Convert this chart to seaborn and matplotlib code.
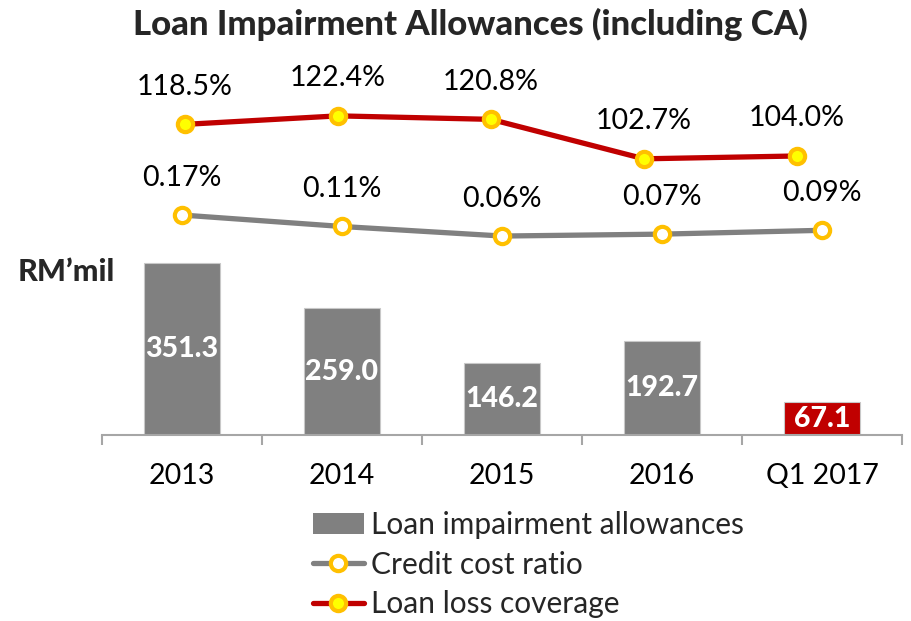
import matplotlib
matplotlib.use('Agg')
import matplotlib.pyplot as plt
import seaborn as sns
import pandas as pd
from matplotlib.patches import Patch
from matplotlib.lines import Line2D

# data
categories = ['2013', '2014', '2015', '2016', 'Q1 2017']
allowances = [351.3, 259.0, 146.2, 192.7, 67.1]
credit_cost = [0.17, 0.11, 0.06, 0.07, 0.09]
coverage = [118.5, 122.4, 120.8, 102.7, 104.0]

GREY = '#808080'
RED = '#C00000'
GOLD = '#FFC000'
bar_colors = [GREY, GREY, GREY, GREY, RED]

sns.set_theme(style='white')
plt.rcParams['font.family'] = ['Lato', 'DejaVu Sans']

W, H = 911, 621
fig = plt.figure(figsize=(W / 100, H / 100), dpi=100)


def box(l, t, r, b):
    # pixel box -> figure fraction
    return [l / W, 1 - b / H, (r - l) / W, (b - t) / H]


# bars
ax_bar = fig.add_axes(box(102, 435 - 400 * 0.4896, 902, 435))
df = pd.DataFrame({'period': categories, 'allowance': allowances})
sns.barplot(data=df, x='period', y='allowance', hue='period', palette=bar_colors,
            legend=False, width=0.47, edgecolor='#C8C8C8', linewidth=0.8,
            saturation=1, ax=ax_bar)
ax_bar.set_xlim(-0.5, 4.5)
ax_bar.set_ylim(0, 400)
for patch, v in zip(ax_bar.patches, allowances):
    ax_bar.text(patch.get_x() + patch.get_width() / 2, v / 2, f'{v:.1f}',
                ha='center', va='center', color='white', fontsize=20.5,
                fontweight='black')
for s in ['top', 'right', 'left']:
    ax_bar.spines[s].set_visible(False)
ax_bar.spines['bottom'].set_color('#A6A6A6')
ax_bar.spines['bottom'].set_linewidth(1.5)
ax_bar.set_yticks([])
ax_bar.set_xlabel('')
ax_bar.set_ylabel('')
ax_bar.set_xticks(range(5))
ax_bar.set_xticklabels(categories, fontsize=20.5, color='black')
ax_bar.tick_params(axis='x', which='major', length=0, pad=20)
ax_bar.set_xticks([i - 0.5 for i in range(6)], minor=True)
ax_bar.tick_params(axis='x', which='minor', bottom=True, length=7.5, width=1.5,
                   color='#A6A6A6', direction='out')
ax_bar.patch.set_alpha(0)

# credit cost ratio line
ax_ccr = fig.add_axes(box(102, 209.3, 902, 247.5))
df_ccr = pd.DataFrame({'period': categories, 'ratio': credit_cost})
sns.pointplot(data=df_ccr, x='period', y='ratio', color=GREY, ax=ax_ccr,
              markers='o', linewidth=3.8, markersize=11,
              markerfacecolor='white', markeredgecolor=GOLD, markeredgewidth=3)
ax_ccr.set_xlim(-0.5, 4.5)
ax_ccr.set_ylim(0, 0.2)
for i, v in enumerate(credit_cost):
    ax_ccr.annotate(f'{v:.2f}%', (i, v), xytext=(0, 27), textcoords='offset points',
                    ha='center', va='center', fontsize=20.5, color='black')

# loan loss coverage line
ax_llc = fig.add_axes(box(108.5, 110.2, 873.5, 175.6))
df_llc = pd.DataFrame({'period': categories, 'coverage': coverage})
sns.pointplot(data=df_llc, x='period', y='coverage', color=RED, ax=ax_llc,
              markers='o', linewidth=3.8, markersize=11,
              markerfacecolor='#FFFF00', markeredgecolor=GOLD, markeredgewidth=3)
ax_llc.set_xlim(-0.5, 4.5)
ax_llc.set_ylim(95, 125)
for i, v in enumerate(coverage):
    ax_llc.annotate(f'{v:.1f}%', (i, v), xytext=(0, 27), textcoords='offset points',
                    ha='center', va='center', fontsize=20.5, color='black')

for ax in (ax_ccr, ax_llc):
    ax.axis('off')
    for ln in ax.lines:
        ln.set_clip_on(False)

# texts
fig.text(470 / W, 1 - 24 / H, 'Loan Impairment Allowances (including CA)',
         ha='center', va='center', fontsize=25, fontweight='black')
fig.text(18 / W, 1 - 272 / H, 'RM\u2019mil', ha='left', va='center',
         fontsize=22, fontweight='black')

# legend
handles = [
    Patch(facecolor=GREY, edgecolor='none'),
    Line2D([], [], color=GREY, lw=3.8, marker='o', markersize=11,
           markerfacecolor='white', markeredgecolor=GOLD, markeredgewidth=3),
    Line2D([], [], color=RED, lw=3.8, marker='o', markersize=11,
           markerfacecolor='#FFFF00', markeredgecolor=GOLD, markeredgewidth=3),
]
labels = ['Loan impairment allowances', 'Credit cost ratio', 'Loan loss coverage']
fig.legend(handles, labels, loc='upper left', bbox_to_anchor=(313 / W, 1 - 511 / H),
           frameon=False, fontsize=21.5, handlelength=1.7, handletextpad=0.25,
           labelspacing=0.39, borderpad=0, borderaxespad=0)

fig.savefig('out.png', dpi=100)
